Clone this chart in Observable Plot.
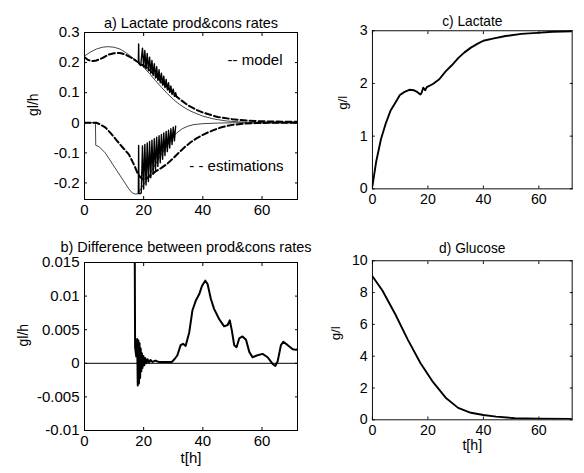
<!DOCTYPE html>
<html>
<head>
<meta charset="utf-8">
<script src="https://cdn.jsdelivr.net/npm/d3@7"></script>
<script src="https://cdn.jsdelivr.net/npm/@observablehq/plot@0.6"></script>
<style>
  html, body { margin: 0; padding: 0; background: #fff; }
  #fig { position: relative; width: 584px; height: 473px; overflow: hidden; background: #fff; }
  #fig > div { position: absolute; }
  svg { overflow: visible; }
</style>
</head>
<body>
<div id="fig">
  <div id="pa" style="left:0;top:0"></div>
  <div id="pc" style="left:300px;top:0"></div>
  <div id="pb" style="left:0;top:230px"></div>
  <div id="pd" style="left:300px;top:230px"></div>
</div>
<script>
// ---------- data (t [h], value) ----------
const xTicks = [0, 20, 40, 60];

// a) Lactate prod & cons rates
const aYTicks = [-0.2, -0.1, 0, 0.1, 0.2, 0.3];
const aYLabels = ["-0.2", "-0.1", "0", "0.1", "0.2", "0.3"];
const modelProd = [[0,0.222],[2,0.235],[4,0.245],[6,0.251],[8,0.253],[10,0.251],[12,0.245],[14,0.233],[16,0.218],[18,0.203],[20,0.185],[22,0.163],[24,0.14],[26,0.118],[28,0.097],[30,0.078],[32,0.062],[34,0.049],[36,0.038],[38,0.03],[40,0.022],[44,0.012],[48,0.006],[52,0.003],[56,0.001],[60,0],[72,0]];
const modelCons = [[0,0],[3.7,0],[3.8,-0.075],[5,-0.08],[7,-0.1],[9,-0.13],[11,-0.16],[13,-0.19],[15,-0.22],[16,-0.232],[17,-0.237],[18,-0.236],[19,-0.22],[21,-0.19],[23,-0.155],[25,-0.12],[27,-0.09],[29,-0.06],[31,-0.035],[33,-0.02],[35,-0.011],[37,-0.006],[40,-0.003],[45,-0.001],[50,0],[72,0]];
const estProd = [[0,0.218],[1,0.21],[2,0.206],[3,0.205],[4,0.207],[6,0.215],[8,0.226],[10,0.231],[12,0.232],[14,0.226],[16,0.215],[18,0.202],[19,0.195],[20,0.19],[22,0.175],[24,0.157],[26,0.137],[28,0.117],[30,0.097],[32,0.08],[35,0.058],[38,0.042],[40,0.034],[45,0.019],[50,0.012],[55,0.007],[60,0.005],[65,0.004],[72,0.003]];
const estCons = [[0,0],[4,0],[5,-0.004],[7,-0.015],[9,-0.036],[11,-0.06],[13,-0.083],[15,-0.105],[17,-0.145],[18,-0.17],[19,-0.182],[20,-0.19],[22,-0.178],[24,-0.162],[26,-0.15],[28,-0.136],[30,-0.118],[32,-0.098],[34,-0.08],[36,-0.064],[38,-0.051],[40,-0.04],[42,-0.031],[44,-0.023],[46,-0.016],[48,-0.011],[50,-0.007],[54,-0.003],[58,-0.001],[62,0],[72,0]];
const oscProd = [[18.2,0.2],[18.3,0.262],[18.4,0.196],[19.0,0.19],[19.6,0.248],[20.0,0.186],[20.4,0.24],[20.8,0.18],[21.2,0.23],[21.6,0.173],[22.0,0.218],[22.4,0.165],[22.8,0.207],[23.2,0.157],[23.6,0.196],[24.0,0.149],[24.4,0.186],[24.8,0.141],[25.2,0.176],[25.6,0.133],[26.0,0.165],[26.4,0.125],[26.8,0.155],[27.2,0.117],[27.6,0.144],[28.0,0.109],[28.4,0.133],[28.8,0.101],[29.2,0.122],[29.6,0.094],[30.0,0.112],[30.4,0.088],[30.8,0.1],[31.2,0.085]];
const oscCons = [[18.2,-0.235],[18.3,-0.075],[18.4,-0.235],[19.0,-0.235],[19.2,-0.232],[19.6,-0.077],[20.0,-0.22],[20.4,-0.072],[20.8,-0.207],[21.2,-0.067],[21.6,-0.195],[22.0,-0.062],[22.4,-0.183],[22.8,-0.058],[23.2,-0.17],[23.6,-0.053],[24.0,-0.158],[24.4,-0.048],[24.8,-0.145],[25.2,-0.043],[25.6,-0.133],[26.0,-0.039],[26.4,-0.121],[26.8,-0.034],[27.2,-0.109],[27.6,-0.029],[28.0,-0.096],[28.4,-0.025],[28.8,-0.084],[29.2,-0.02],[29.6,-0.072],[30.0,-0.015],[30.4,-0.06],[30.8,-0.011]];

// b) Difference between prod & cons rates
const bYTicks = [-0.01, -0.005, 0, 0.005, 0.01, 0.015];
const bYLabels = ["-0.01", "-0.005", "0", "0.005", "0.01", "0.015"];
const diff = [[17.0,0.015],[17.1,0.0024],[17.5,0.001],[17.8,0.0036],[18.0,-0.0033],[18.2,0.0034],[18.4,-0.003],[18.6,0.003],[18.8,-0.0022],[19.0,0.0022],[19.2,-0.0012],[19.4,0.0015],[19.6,-0.0007],[19.9,0.0011],[20.2,-0.0003],[20.5,0.0008],[20.9,0.0],[21.3,0.0006],[21.8,0.0001],[22.3,0.0005],[23,0.0002],[24,0.0004],[25,0.0002],[27,0.0002],[29.5,0.0002],[30.4,0.0006],[31.4,0.0012],[32.5,0.0027],[33.3,0.0029],[34.2,0.0026],[35.4,0.0046],[36.5,0.0079],[37.6,0.0093],[38.8,0.0103],[39.7,0.0115],[40.8,0.0123],[41.6,0.0118],[42.7,0.0096],[43.8,0.0081],[45.5,0.0066],[47.2,0.0055],[48.4,0.0057],[49.1,0.0064],[49.8,0.0049],[50.6,0.0027],[51.4,0.0024],[52.3,0.0037],[53.4,0.004],[54.6,0.0035],[55.7,0.0017],[56.8,0.0009],[58.5,0.0012],[60.2,0.0014],[61.9,0.0009],[63.6,-0.0001],[64.5,-0.0004],[65.3,0.0003],[66.4,0.0027],[67.2,0.0032],[68.7,0.0027],[70.4,0.0021],[71.6,0.002],[72,0.0021]];

// c) Lactate
const cYTicks = [0, 1, 2, 3];
const cYLabels = ["0", "1", "2", "3"];
const lactate = [[0,0.05],[1.37,0.52],[3.07,0.94],[4.8,1.24],[6.5,1.48],[8.2,1.63],[9.9,1.78],[11.6,1.84],[13.3,1.88],[15,1.87],[16.1,1.84],[17.3,1.79],[17.7,1.82],[18.3,1.92],[19,1.87],[19.6,1.93],[21.8,1.99],[24.1,2.08],[26.4,2.23],[28.7,2.35],[30.9,2.48],[33.2,2.59],[35.5,2.68],[37.8,2.75],[40,2.81],[43.4,2.85],[48,2.9],[53.7,2.94],[59.4,2.96],[65,2.98],[72,2.99]];

// d) Glucose
const dYTicks = [0, 2, 4, 6, 8, 10];
const dYLabels = ["0", "2", "4", "6", "8", "10"];
const glucose = [[0,9.03],[3.6,8.13],[8.2,6.65],[12.7,5.06],[17.3,3.57],[21.8,2.38],[26.4,1.39],[30.9,0.75],[35.5,0.44],[40,0.3],[44.6,0.2],[51.4,0.1],[59.4,0.07],[72,0.05]];

// ---------- drawing ----------
const FONT = "'Liberation Sans', Arial, Helvetica, sans-serif";

function panel(o) {
  const fmt = d => o.yLabels[o.yTicks.indexOf(d)];
  const extra = [];
  if (o.xlab) extra.push(Plot.text([o.xlab], {frameAnchor: "bottom", dy: 32, fontSize: 15, fill: "#000"}));
  return Plot.plot({
    width: o.width, height: o.height,
    marginTop: o.mt, marginBottom: o.mb, marginLeft: o.ml, marginRight: o.mr,
    style: {fontFamily: FONT, fontSize: "15px", color: "#000", background: "transparent", overflow: "visible"},
    x: {domain: [0, 72]},
    y: {domain: o.yDomain},
    marks: [
      ...o.marks,
      Plot.frame({stroke: "#000", strokeWidth: 1}),
      Plot.axisX(xTicks, {anchor: "bottom", tickSize: 0, tickPadding: 5, fontSize: 15, tickFormat: d => String(d), label: null}),
      Plot.axisX(xTicks, {anchor: "bottom", tickSize: -3, fill: "none", label: null}),
      Plot.axisX(xTicks, {anchor: "top", tickSize: -3, fill: "none", label: null}),
      Plot.axisY(o.yTicks, {anchor: "left", tickSize: 0, tickPadding: 5, fontSize: 15, tickFormat: fmt, label: null}),
      Plot.axisY(o.yTicks, {anchor: "left", tickSize: -3, fill: "none", label: null}),
      Plot.axisY(o.yTicks, {anchor: "right", tickSize: -3, fill: "none", label: null}),
      Plot.text([o.title], {frameAnchor: "top", dy: o.titleDy, dx: o.titleDx || 0, fontSize: 14.5, fill: "#000"}),
      Plot.text([o.ylab], {frameAnchor: "left", rotate: -90, dx: o.ylabDx, fontSize: 14, fill: "#000"}),
      ...extra
    ]
  });
}

const lineOpts = {x: d => d[0], y: d => d[1], clip: true};

document.getElementById("pa").append(panel({
  width: 300, height: 230, mt: 32, mb: 31, ml: 84, mr: 3,
  yDomain: [-0.255, 0.3], yTicks: aYTicks, yLabels: aYLabels,
  title: "a) Lactate prod&cons rates", titleDy: -15, ylab: "gl/h", ylabDx: -51,
  marks: [
    Plot.line(modelProd, {...lineOpts, stroke: "#444", strokeWidth: 1}),
    Plot.line(modelCons, {...lineOpts, stroke: "#444", strokeWidth: 1}),
    Plot.line(oscProd, {...lineOpts, stroke: "#000", strokeWidth: 1.4}),
    Plot.line(oscCons, {...lineOpts, stroke: "#000", strokeWidth: 1.4}),
    Plot.line(estProd, {...lineOpts, stroke: "#000", strokeWidth: 2, strokeDasharray: "6,3"}),
    Plot.line(estCons, {...lineOpts, stroke: "#000", strokeWidth: 2, strokeDasharray: "6,3"}),
    Plot.text(["-- model"], {frameAnchor: "top-right", dx: -15, dy: 22, textAnchor: "end", fontSize: 15, fill: "#000"}),
    Plot.text(["- - estimations"], {frameAnchor: "bottom-right", dx: -14, dy: -29, textAnchor: "end", fontSize: 15, fill: "#000"})
  ]
}));

document.getElementById("pc").append(panel({
  width: 300, height: 230, mt: 32, mb: 31, ml: 76, mr: 13,
  yDomain: [0, 3], yTicks: cYTicks, yLabels: cYLabels,
  title: "c) Lactate", titleDy: -15, ylab: "g/l", ylabDx: -31,
  marks: [
    Plot.line(lactate, {...lineOpts, stroke: "#000", strokeWidth: 2})
  ]
}));

document.getElementById("pb").append(panel({
  width: 300, height: 243, mt: 32, mb: 43, ml: 84, mr: 3,
  yDomain: [-0.01, 0.015], yTicks: bYTicks, yLabels: bYLabels,
  title: "b) Difference between prod&cons rates", titleDy: -21, titleDx: -5, ylab: "gl/h", ylabDx: -61, xlab: "t[h]",
  marks: [
    Plot.ruleY([0], {stroke: "#000", strokeWidth: 1}),
    Plot.line(diff, {...lineOpts, stroke: "#000", strokeWidth: 2})
  ]
}));

document.getElementById("pd").append(panel({
  width: 300, height: 243, mt: 32, mb: 43, ml: 76, mr: 13,
  yDomain: [0, 10], yTicks: dYTicks, yLabels: dYLabels,
  title: "d) Glucose", titleDy: -19, ylab: "g/l", ylabDx: -39, xlab: "t[h]",
  marks: [
    Plot.line(glucose, {...lineOpts, stroke: "#000", strokeWidth: 2})
  ]
}));
</script>
</body>
</html>
